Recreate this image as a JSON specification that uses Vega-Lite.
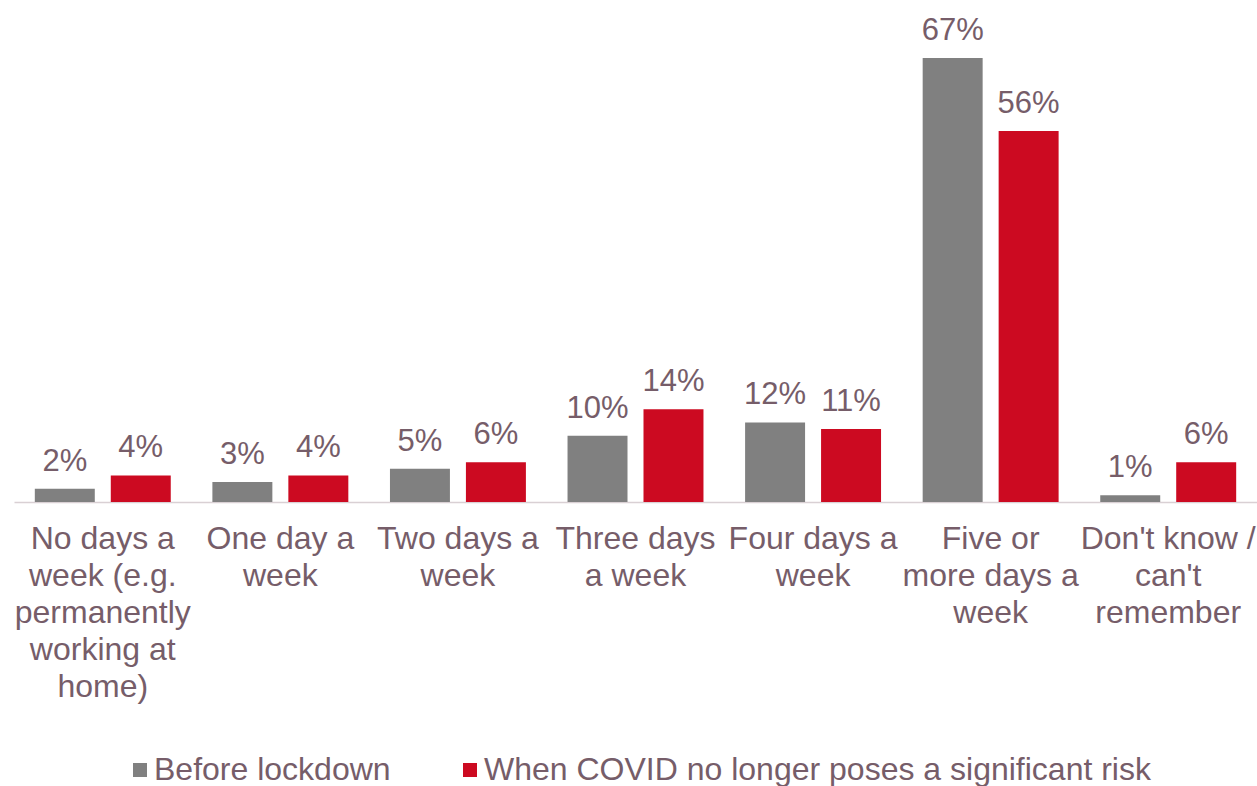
{
  "$schema": "https://vega.github.io/schema/vega-lite/v6.json",
  "autosize": "none",
  "width": 1243,
  "height": 444,
  "padding": {"left": 14, "top": 58, "right": 0, "bottom": 284},
  "background": "white",
  "config": {
    "view": {"stroke": null},
    "font": "Liberation Sans",
    "text": {"font": "Liberation Sans"}
  },
  "data": {
    "values": [
      {"cat": "No days a|week (e.g.|permanently|working at|home)", "series": "Before lockdown", "value": 2, "label": "2%", "order": 1},
      {"cat": "No days a|week (e.g.|permanently|working at|home)", "series": "When COVID no longer poses a significant risk", "value": 4, "label": "4%", "order": 1},
      {"cat": "One day a|week", "series": "Before lockdown", "value": 3, "label": "3%", "order": 2},
      {"cat": "One day a|week", "series": "When COVID no longer poses a significant risk", "value": 4, "label": "4%", "order": 2},
      {"cat": "Two days a|week", "series": "Before lockdown", "value": 5, "label": "5%", "order": 3},
      {"cat": "Two days a|week", "series": "When COVID no longer poses a significant risk", "value": 6, "label": "6%", "order": 3},
      {"cat": "Three days|a week", "series": "Before lockdown", "value": 10, "label": "10%", "order": 4},
      {"cat": "Three days|a week", "series": "When COVID no longer poses a significant risk", "value": 14, "label": "14%", "order": 4},
      {"cat": "Four days a|week", "series": "Before lockdown", "value": 12, "label": "12%", "order": 5},
      {"cat": "Four days a|week", "series": "When COVID no longer poses a significant risk", "value": 11, "label": "11%", "order": 5},
      {"cat": "Five or|more days a|week", "series": "Before lockdown", "value": 67, "label": "67%", "order": 6},
      {"cat": "Five or|more days a|week", "series": "When COVID no longer poses a significant risk", "value": 56, "label": "56%", "order": 6},
      {"cat": "Don't know /|can't|remember", "series": "Before lockdown", "value": 1, "label": "1%", "order": 7},
      {"cat": "Don't know /|can't|remember", "series": "When COVID no longer poses a significant risk", "value": 6, "label": "6%", "order": 7}
    ]
  },
  "encoding": {
    "x": {
      "field": "cat",
      "type": "nominal",
      "sort": {"field": "order"},
      "scale": {"paddingInner": 0, "paddingOuter": 0},
      "axis": {
        "title": null,
        "labelAngle": 0,
        "ticks": false,
        "domainColor": "#d9d0d4",
        "domainWidth": 1.5,
        "labelExpr": "split(datum.label, '|')",
        "labelFont": "Liberation Sans",
        "labelFontSize": 32,
        "labelColor": "#765d69",
        "labelLineHeight": 37,
        "labelPadding": 21,
        "labelBaseline": "top",
        "labelLimit": 300
      }
    },
    "xOffset": {
      "field": "series",
      "type": "nominal",
      "scale": {"paddingInner": 0.2105, "paddingOuter": 0.274}
    },
    "y": {
      "field": "value",
      "type": "quantitative",
      "scale": {"domain": [0, 67], "nice": false},
      "axis": null
    }
  },
  "layer": [
    {
      "mark": {"type": "bar"},
      "encoding": {
        "color": {
          "field": "series",
          "type": "nominal",
          "scale": {
            "domain": ["Before lockdown", "When COVID no longer poses a significant risk"],
            "range": ["#808080", "#cc0a21"]
          },
          "legend": {
            "title": null,
            "orient": "none",
            "direction": "horizontal",
            "legendX": 110,
            "legendY": 696,
            "symbolType": "square",
            "symbolSize": 196,
            "symbolStrokeWidth": 0,
            "symbolOpacity": 1,
            "labelFont": "Liberation Sans",
            "labelFontSize": 32,
            "labelColor": "#765d69",
            "labelOffset": -2,
            "columnPadding": 63,
            "labelLimit": 800
          }
        }
      }
    },
    {
      "mark": {"type": "text", "baseline": "alphabetic", "dy": -18, "fontSize": 31, "font": "Liberation Sans", "color": "#765d69"},
      "encoding": {"text": {"field": "label"}}
    }
  ]
}
